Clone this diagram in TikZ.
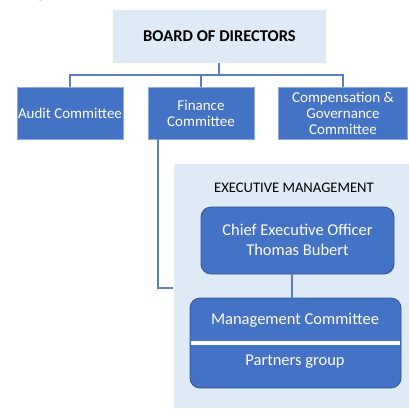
\documentclass[tikz,border=0pt]{standalone}
\usepackage{fontspec}
\setmainfont{Carlito}
\begin{document}
\definecolor{boxblue}{HTML}{4472C4}
\definecolor{edgeblue}{HTML}{8FAADC}
\definecolor{darkedge}{HTML}{2F5597}
\definecolor{paleblue}{HTML}{DEEBF7}
\definecolor{linkblue}{HTML}{5B7FC7}
\begin{tikzpicture}[x=1pt,y=-1pt,
  board/.style={fill=paleblue, draw=none, inner sep=0pt},
  committee/.style={fill=boxblue, draw=edgeblue, line width=0.8pt, text=white,
    font=\fontsize{15}{16}\selectfont, align=center, inner sep=0pt},
  roundbox/.style={fill=boxblue, draw=darkedge, line width=0.8pt, rounded corners=10pt},
  link/.style={draw=linkblue, line width=1.6pt},
  whitetext/.style={text=white, font=\fontsize{16.5}{20.5}\selectfont, align=center, inner sep=0pt}]
\useasboundingbox (0,0) rectangle (409,408);

% heading fragment at the top edge
\node[anchor=base, font=\fontsize{30}{30}\selectfont, inner sep=0pt] (head) at (41,-5) {g};

% board
\path[board] (113,10) rectangle (326,63);
\node[font=\bfseries\fontsize{16.5}{18}\selectfont, inner sep=0pt] (board) at (219.5,36.5) {BOARD OF DIRECTORS};
\coordinate (boardbot) at (219,63);

% committees
\node[committee, minimum width=106pt, minimum height=52pt] (audit) at (70,113) {Audit Committee};
\node[committee, minimum width=106pt, minimum height=52pt] (finance) at (201,113) {Finance\\Committee};
\node[committee, minimum width=129pt, minimum height=52pt] (comp) at (343,113) {Compensation \&\\Governance\\Committee};

% board to committees
\coordinate (bus) at (219,75);
\draw[link] (boardbot) -- (bus);
\draw[link] (audit.north) |- (bus) -| (comp.north);
\draw[link] (finance.north) -- (finance.north |- bus);

% executive management panel
\fill[paleblue] (174,164) rectangle (409,408);
\node[font=\fontsize{14.6}{16}\selectfont, inner sep=0pt] (exectitle) at (294,188) {EXECUTIVE MANAGEMENT};

% finance committee link into the panel
\coordinate (panelleft) at (173,288);
\draw[link] (finance.south -| 158,0) -- (158,288) -- (panelleft);

% chief executive
\draw[roundbox] (201,207) rectangle (394,274);
\node[whitetext] (ceo) at (297.5,240) {Chief Executive Officer\\Thomas Bubert};
\coordinate (ceobot) at (292,274);

% management committee and partners
\draw[roundbox] (190,298) rectangle (401,388);
\coordinate (mgtop) at (292,298);
\draw[white, line width=4.5pt] (190.8,343) -- (400.2,343);
\node[whitetext] (mgmt) at (295,320) {Management Committee};
\node[whitetext] (partners) at (295,362) {Partners group};

\draw[link] (ceobot) -- (mgtop);
\end{tikzpicture}
\end{document}
